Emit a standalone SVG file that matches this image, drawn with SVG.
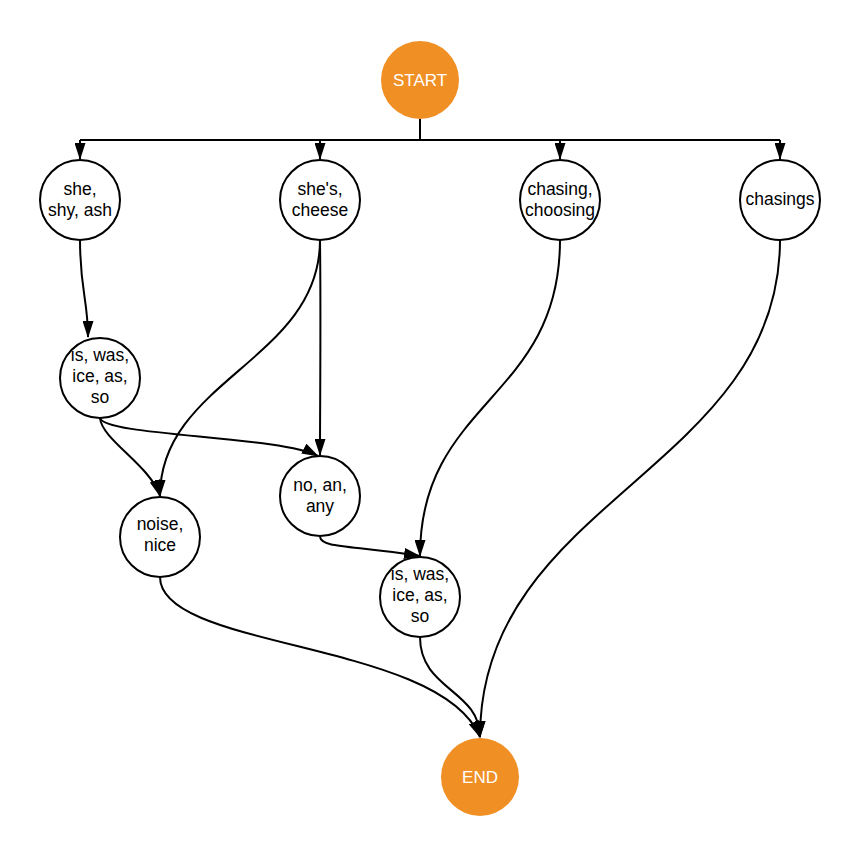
<svg xmlns="http://www.w3.org/2000/svg" width="860" height="857" viewBox="0 0 860 857">
<style>
.n circle{fill:#fff;stroke:#000;stroke-width:2}
.t circle{fill:#f08f24;stroke:none}
text{font-family:"Liberation Sans",Arial,sans-serif;font-size:17.5px;text-anchor:middle;fill:#000}
.t text{fill:#fff;font-size:17px}
.c path{fill:none;stroke:#000;stroke-width:2;marker-end:url(#ah)}
.c path.nm{marker-end:none}
</style>
<defs>
<marker id="ah" markerUnits="userSpaceOnUse" markerWidth="17" markerHeight="11" viewBox="0 0 17 11" refX="16" refY="5.5" orient="auto">
<path d="M0,0 L17,5.5 L0,11 z" fill="#000"/>
</marker>
</defs>
<g id="connectors" class="c">
<path class="nm" d="M420,119 V140 M80,140 H780"/>
<path d="M80,140 V159"/>
<path d="M320,140 V159"/>
<path d="M560,140 V159"/>
<path d="M780,140 V159"/>
<path d="M80,240 C80,290 88,300 88,337"/>
<path d="M320,240 C320,360 160,380 160,496"/>
<path d="M320,240 C321,320 320,400 320,455"/>
<path d="M100,418 C102,440 150,465 160,496"/>
<path d="M100,418 C104,436 280,436 318,456"/>
<path d="M320,537 C322,548 350,545 420,556"/>
<path d="M560,240 C560,400 420,400 420,556"/>
<path d="M780,240 C780,470 480,500 480,737"/>
<path d="M160,577 C160,650 440,640 480,737"/>
<path d="M420,637 C420,690 480,690 480,737"/>
</g>
<g id="start" class="t"><circle cx="420" cy="80" r="39"/><text x="420" y="86">START</text></g>
<g id="end" class="t"><circle cx="480" cy="777" r="39"/><text x="480" y="783">END</text></g>
<g id="n1" class="n"><circle cx="80" cy="200" r="40"/><text x="80" y="195">she,</text><text x="80" y="216">shy, ash</text></g>
<g id="n2" class="n"><circle cx="320" cy="200" r="40"/><text x="320" y="195">she's,</text><text x="320" y="216">cheese</text></g>
<g id="n3" class="n"><circle cx="560" cy="200" r="40"/><text x="560" y="195">chasing,</text><text x="560" y="216">choosing</text></g>
<g id="n4" class="n"><circle cx="780" cy="200" r="40"/><text x="780" y="205">chasings</text></g>
<g id="n5" class="n"><circle cx="100" cy="378" r="40"/><text x="100" y="361">is, was,</text><text x="100" y="382">ice, as,</text><text x="100" y="403">so</text></g>
<g id="n6" class="n"><circle cx="160" cy="537" r="40"/><text x="160" y="530">noise,</text><text x="160" y="551">nice</text></g>
<g id="n7" class="n"><circle cx="320" cy="496" r="40"/><text x="320" y="491">no, an,</text><text x="320" y="512">any</text></g>
<g id="n8" class="n"><circle cx="420" cy="597" r="40"/><text x="420" y="580">is, was,</text><text x="420" y="601">ice, as,</text><text x="420" y="622">so</text></g>
</svg>
